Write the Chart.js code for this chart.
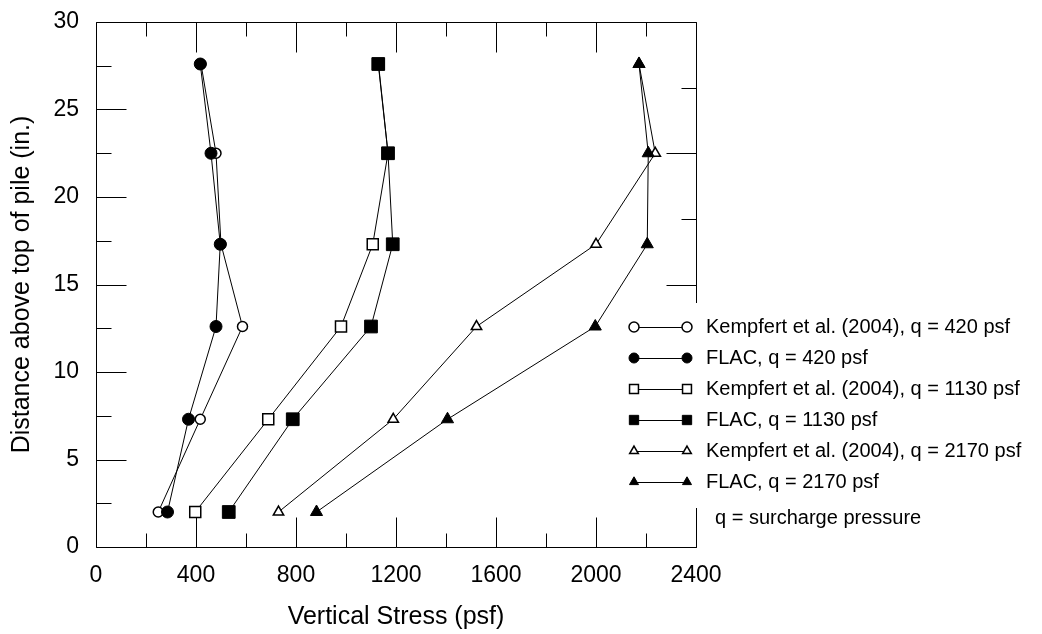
<!DOCTYPE html>
<html>
<head>
<meta charset="utf-8">
<title>Vertical stress above pile</title>
<script src="https://cdn.jsdelivr.net/npm/chart.js@4.4.1/dist/chart.umd.min.js"></script>
<style>
  html, body { margin: 0; padding: 0; background: #fff; }
  #wrap { width: 1042px; height: 634px; }
</style>
</head>
<body>
<div id="wrap"><canvas id="stressChart" width="1042" height="634"></canvas></div>
<script>
// distance above top of pile (in.) for every reading
const depths = [27.6, 22.5, 17.3, 12.6, 7.3, 2.0];

// vertical stress (psf)
const kempfert420 = [420, 480, 500, 586, 417, 249];
const flac420 = [417, 460, 497, 480, 370, 286];
const kempfert1130 = [1130, 1168, 1107, 980, 689, 397];
const flac1130 = [1129, 1168, 1187, 1100, 787, 531];
const kempfert2170 = [2172, 2237, 2000, 1522, 1189, 730];
const flac2170 = [2172, 2209, 2205, 1997, 1406, 882];

const xTickValues = [0, 400, 800, 1200, 1600, 2000, 2400];
const yTickValues = [0, 5, 10, 15, 20, 25, 30];
const rightTickValues = [0, 7.5, 15, 22.5, 30];

const noteText = 'q = surcharge pressure';
const FONT = "'Liberation Sans', Arial, sans-serif";

const series = [
    { label: 'Kempfert et al. (2004), q = 420 psf', values: kempfert420, style: 'circle', filled: false },
    { label: 'FLAC, q = 420 psf', values: flac420, style: 'circle', filled: true },
    { label: 'Kempfert et al. (2004), q = 1130 psf', values: kempfert1130, style: 'rect', filled: false },
    { label: 'FLAC, q = 1130 psf', values: flac1130, style: 'rect', filled: true },
    { label: 'Kempfert et al. (2004), q = 2170 psf', values: kempfert2170, style: 'triangle', filled: false },
    { label: 'FLAC, q = 2170 psf', values: flac2170, style: 'triangle', filled: true },
];

// marker radius [open, filled] on the plot and in the key
const plotRadius = { circle: [5, 6], rect: [7.8, 9], triangle: [6, 7] };
const keyRadius = { circle: [5, 5], rect: [6.3, 6.6], triangle: [5, 5.2] };

const toPoints = (values) => values.map((v, i) => ({ x: v, y: depths[i] }));

function drawMarker(ctx, style, filled, r, px, py) {
    ctx.beginPath();
    if (style === 'circle') {
        ctx.arc(px, py, r, 0, Math.PI * 2);
    } else if (style === 'rect') {
        const s = r * Math.SQRT1_2;
        ctx.rect(px - s, py - s, 2 * s, 2 * s);
    } else {
        let rad = 0;
        ctx.moveTo(px + Math.sin(rad) * r, py - Math.cos(rad) * r);
        rad += Math.PI * 2 / 3;
        ctx.lineTo(px + Math.sin(rad) * r, py - Math.cos(rad) * r);
        rad += Math.PI * 2 / 3;
        ctx.lineTo(px + Math.sin(rad) * r, py - Math.cos(rad) * r);
        ctx.closePath();
    }
    ctx.fillStyle = filled ? '#000' : '#fff';
    ctx.fill();
    ctx.lineWidth = filled ? 1 : 1.5;
    ctx.strokeStyle = '#000';
    ctx.stroke();
}

const crisp = (v) => Math.round(v) + 0.5;

const midpoints = (vals) => vals.slice(1).map((v, i) => (v + vals[i]) / 2);

// box, inward ticks and the key (which sits over the right edge of the box)
const frameAndKey = {
    id: 'frameAndKey',
    afterDraw(chart) {
        const { ctx, chartArea: a, scales: { x, y } } = chart;
        ctx.save();
        ctx.strokeStyle = '#000';
        ctx.lineWidth = 1;

        const L = crisp(a.left), R = crisp(a.right), T = crisp(a.top), B = crisp(a.bottom);
        ctx.beginPath();
        ctx.rect(L, T, R - L, B - T);

        const xTick = (v, len) => {
            const px = crisp(x.getPixelForValue(v));
            ctx.moveTo(px, B); ctx.lineTo(px, B - len);
            ctx.moveTo(px, T); ctx.lineTo(px, T + len);
        };
        xTickValues.forEach(v => xTick(v, 30));
        midpoints(xTickValues).forEach(v => xTick(v, 14));

        const yTick = (v, len, side) => {
            const py = crisp(y.getPixelForValue(v));
            if (side === 'left') { ctx.moveTo(L, py); ctx.lineTo(L + len, py); }
            else { ctx.moveTo(R, py); ctx.lineTo(R - len, py); }
        };
        yTickValues.forEach(v => yTick(v, 30, 'left'));
        midpoints(yTickValues).forEach(v => yTick(v, 15, 'left'));
        rightTickValues.forEach(v => yTick(v, 30, 'right'));
        midpoints(rightTickValues).forEach(v => yTick(v, 15, 'right'));
        ctx.stroke();

        // key
        const keyLeft = a.right - 62;
        const keyTop = 327;
        const rowGap = 31;
        ctx.fillStyle = '#fff';
        ctx.fillRect(keyLeft - 14, keyTop - 24, chart.width - keyLeft + 14, rowGap * 5 + 50);

        ctx.font = '20px ' + FONT;
        ctx.textBaseline = 'middle';
        ctx.textAlign = 'left';
        series.forEach((s, i) => {
            const py = keyTop + i * rowGap;
            const r = keyRadius[s.style][s.filled ? 1 : 0];
            ctx.beginPath();
            ctx.lineWidth = 1;
            ctx.strokeStyle = '#000';
            ctx.moveTo(keyLeft, py + 0.5);
            ctx.lineTo(keyLeft + 53, py + 0.5);
            ctx.stroke();
            drawMarker(ctx, s.style, s.filled, r, keyLeft, py);
            drawMarker(ctx, s.style, s.filled, r, keyLeft + 53, py);
            ctx.fillStyle = '#000';
            ctx.fillText(s.label, keyLeft + 72, py);
        });
        ctx.fillStyle = '#000';
        ctx.fillText(noteText, keyLeft + 81, keyTop + rowGap * 5 + 36);
        ctx.restore();
    }
};

const ctx = document.getElementById('stressChart');

new Chart(ctx, {
    type: 'scatter',
    data: {
        datasets: series.map(s => {
            const r = plotRadius[s.style][s.filled ? 1 : 0];
            return {
                label: s.label,
                data: toPoints(s.values),
                showLine: true,
                borderColor: '#000',
                borderWidth: 1,
                tension: 0,
                fill: false,
                pointStyle: s.style,
                pointRadius: r,
                pointHoverRadius: r,
                pointBackgroundColor: s.filled ? '#000' : '#fff',
                pointBorderColor: '#000',
                pointBorderWidth: s.filled ? 1 : 1.5,
                order: s.filled ? 0 : 1
            };
        })
    },
    options: {
        responsive: false,
        animation: false,
        devicePixelRatio: 1,
        events: [],
        layout: { padding: { top: 22, right: 346, bottom: 0, left: 0 } },
        scales: {
            x: {
                type: 'linear',
                position: 'bottom',
                min: 0,
                max: 2400,
                afterBuildTicks: s => { s.ticks = xTickValues.map(v => ({ value: v })); },
                afterFit: s => { s.height = 87; s.paddingLeft = 0; s.paddingRight = 0; },
                grid: { display: false, drawTicks: false },
                border: { display: false },
                ticks: {
                    color: '#000',
                    padding: 15,
                    autoSkip: false,
                    maxRotation: 0,
                    callback: v => String(v),
                    font: { family: FONT, size: 23 }
                },
                title: {
                    display: true,
                    text: 'Vertical Stress (psf)',
                    color: '#000',
                    padding: { top: 0, bottom: 2 },
                    font: { family: FONT, size: 25 }
                }
            },
            y: {
                type: 'linear',
                position: 'left',
                min: 0,
                max: 30,
                afterBuildTicks: s => { s.ticks = yTickValues.map(v => ({ value: v })); },
                afterFit: s => { s.width = 96; s.paddingTop = 0; s.paddingBottom = 0; },
                grid: { display: false, drawTicks: false },
                border: { display: false },
                ticks: {
                    color: '#000',
                    padding: 17,
                    callback: v => String(v),
                    font: { family: FONT, size: 23 }
                },
                title: {
                    display: true,
                    text: 'Distance above top of pile (in.)',
                    color: '#000',
                    padding: { top: 7, bottom: 0 },
                    font: { family: FONT, size: 25 }
                }
            }
        },
        plugins: {
            legend: { display: false },
            tooltip: { enabled: false }
        }
    },
    plugins: [frameAndKey]
});
</script>
</body>
</html>
